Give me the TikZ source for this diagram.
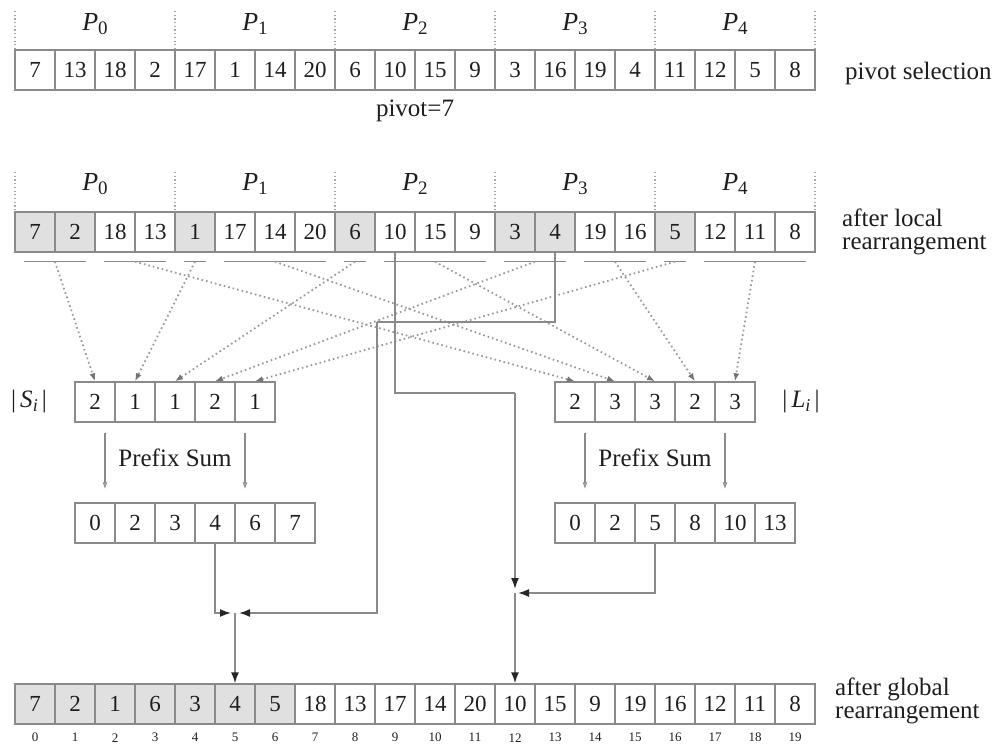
\documentclass[tikz,border=0pt]{standalone}
\usepackage{fontspec}
\setmainfont{Liberation Serif}
\usetikzlibrary{arrows.meta,calc}
\definecolor{linegray}{HTML}{8A8A8A}
\definecolor{shadegray}{HTML}{E0E0E0}
\definecolor{txt}{HTML}{1E1E1E}
\begin{document}
\begin{tikzpicture}[x=1pt,y=-1pt,
  cell/.style={draw=linegray, line width=1.4pt, minimum width=40pt, minimum height=40pt, inner sep=0pt, font=\fontsize{23}{23}\selectfont, text=txt},
  sh/.style={fill=shadegray},
  pl/.style={},
  lbl/.style={font=\fontsize{25}{23}\selectfont, inner sep=0pt, align=left, text=txt},
  plbl/.style={font=\fontsize{26}{26}\selectfont, inner sep=0pt, text=txt},
  idx/.style={font=\fontsize{13}{13}\selectfont, inner sep=0pt, text=txt},
  sepline/.style={draw=black!35, dash pattern=on 1.2pt off 2.5pt, line width=1.4pt},
  uline/.style={draw=linegray, line width=1.4pt},
  dotarrow/.style={draw=black!40, dash pattern=on 1.6pt off 3pt, line width=1.8pt, -{Latex[length=8pt,width=6pt,open,color=black!55]}},
  conn/.style={draw=linegray, line width=1.6pt},
  carrow/.style={conn, -{Latex[length=11pt,width=8pt,color=black!85]}},
  psarrow/.style={draw=linegray, line width=1.1pt, -{Latex[length=7pt,width=5pt,open]}}
]
\useasboundingbox (0,0) rectangle (1004,749);

% row 1
\foreach \v [count=\i from 0] in {7,13,18,2,17,1,14,20,6,10,15,9,3,16,19,4,11,12,5,8}
  \node[cell] (a\i) at ({35+40*\i},70) {\v};
% row 2
\foreach \v/\st [count=\i from 0] in {7/sh,2/sh,18/pl,13/pl,1/sh,17/pl,14/pl,20/pl,6/sh,10/pl,15/pl,9/pl,3/sh,4/sh,19/pl,16/pl,5/sh,12/pl,11/pl,8/pl}
  \node[cell,\st] (b\i) at ({35+40*\i},232) {\v};

% processor labels and separators
\foreach \k in {0,...,4} {
  \node[plbl] (pa\k) at ({95+160*\k},24) {\textit{P}\raisebox{-0.35ex}{\fontsize{19}{19}\selectfont\k}};
  \node[plbl] (pb\k) at ({95+160*\k},184) {\textit{P}\raisebox{-0.35ex}{\fontsize{19}{19}\selectfont\k}};
}
\foreach \k in {0,...,5} {
  \draw[sepline] ({15+160*\k},11) -- ({15+160*\k},50);
  \draw[sepline] ({15+160*\k},172) -- ({15+160*\k},212);
}

\node[lbl, anchor=west] (ps) at (845,73) {pivot selection};
\node[lbl] (pv) at (415,111) {pivot=7};
\node[lbl, anchor=west] (alr) at (842,232) {after local\\rearrangement};

% underline segments
\foreach \a/\b/\n in {0/1/0,2/3/1,4/4/2,5/7/3,8/8/4,9/11/5,12/13/6,14/15/7,16/16/8,17/19/9} {
  \coordinate (ua\n) at ($(b\a.south west)+(10,9)$);
  \coordinate (ub\n) at ($(b\b.south east)+(-10,9)$);
  \draw[uline] (ua\n) -- (ub\n);
  \coordinate (um\n) at ($(ua\n)!0.5!(ub\n)$);
}

% S and L arrays
\foreach \v [count=\i from 0] in {2,1,1,2,1}
  \node[cell] (s\i) at ({95+40*\i},402) {\v};
\foreach \v [count=\i from 0] in {2,3,3,2,3}
  \node[cell] (l\i) at ({575+40*\i},402) {\v};
\node[lbl] (slab) at (29,402) {|\,\textit{S}\raisebox{-0.35ex}{\fontsize{18}{18}\selectfont\textit{i}}\,|};
\node[lbl] (llab) at (801,402) {|\,\textit{L}\raisebox{-0.35ex}{\fontsize{18}{18}\selectfont\textit{i}}\,|};

% dotted arrows
\draw[dotarrow] (um0) -- (s0.north);
\draw[dotarrow] (um2) -- (s1.north);
\draw[dotarrow] (um4) -- (s2.north);
\draw[dotarrow] (um6) -- (s3.north);
\draw[dotarrow] (um8) -- (s4.north);
\draw[dotarrow] (um1) -- (l0.north);
\draw[dotarrow] (um3) -- (l1.north);
\draw[dotarrow] (um5) -- (l2.north);
\draw[dotarrow] (um7) -- (l3.north);
\draw[dotarrow] (um9) -- (l4.north);

% prefix arrays
\foreach \v [count=\i from 0] in {0,2,3,4,6,7}
  \node[cell] (p\i) at ({95+40*\i},523) {\v};
\foreach \v [count=\i from 0] in {0,2,5,8,10,13}
  \node[cell] (q\i) at ({575+40*\i},523) {\v};

\draw[psarrow] ($(s0.south)+(10,10)$) -- ($(p0.north)+(10,-13)$);
\draw[psarrow] ($(s4.south)+(-10,10)$) -- ($(p4.north)+(-10,-13)$);
\draw[psarrow] ($(l0.south)+(10,10)$) -- ($(q0.north)+(10,-13)$);
\draw[psarrow] ($(l4.south)+(-10,10)$) -- ($(q4.north)+(-10,-13)$);
\node[lbl] (psl) at (175,458) {Prefix Sum};
\node[lbl] (psr) at (655,458) {Prefix Sum};

% bottom array
\foreach \v/\st [count=\i from 0] in {7/sh,2/sh,1/sh,6/sh,3/sh,4/sh,5/sh,18/pl,13/pl,17/pl,14/pl,20/pl,10/pl,15/pl,9/pl,19/pl,16/pl,12/pl,11/pl,8/pl} {
  \node[cell,\st] (g\i) at ({35+40*\i},704) {\v};
  \node[idx] (gi\i) at ($(g\i.south)+(0,13)$) {\i};
}
\node[lbl, anchor=west] (agr) at (835,701) {after global\\rearrangement};

% solid connectors, left
\coordinate (k1) at (377,322);
\coordinate (jl) at (235,613);
\draw[conn] (b13.south) |- (k1);
\draw[carrow] (k1) |- ($(jl)+(4,0)$);
\draw[carrow] (p3.south) |- ($(jl)+(-4,0)$);
\draw[carrow] (jl) -- (g5.north);

% solid connectors, right
\coordinate (k2) at (515,393);
\coordinate (jr) at (515,593);
\draw[conn] (b9.south) |- (k2);
\draw[carrow] (k2) -- ($(jr)+(0,-4)$);
\draw[carrow] (q2.south) |- ($(jr)+(3,0)$);
\draw[carrow] (jr) -- (g12.north);
\end{tikzpicture}
\end{document}
